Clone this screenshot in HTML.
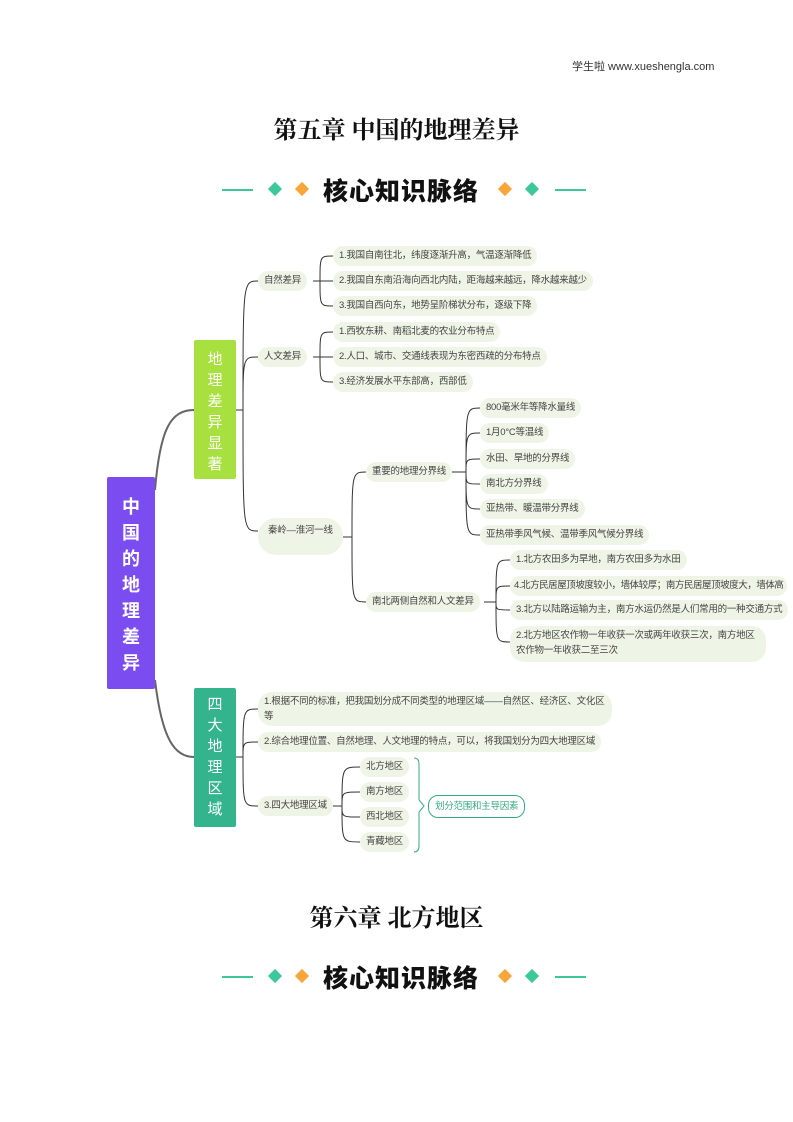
<!DOCTYPE html>
<html><head><meta charset="utf-8">
<style>
body{margin:0;background:#fff;}
#pg{position:relative;width:793px;height:1122px;overflow:hidden;font-family:"Liberation Sans","Noto Sans CJK SC",sans-serif;color:#333;}
.a{position:absolute;}
.p{position:absolute;height:20px;line-height:20px;padding:0 6px;border-radius:10px;background:#eef5e6;font-size:9.5px;letter-spacing:-0.25px;white-space:nowrap;color:#444;}
.t{position:absolute;left:0;width:793px;text-align:center;font-family:"Liberation Serif","Noto Serif CJK SC",serif;font-size:24px;font-weight:bold;color:#111;}
.h{position:absolute;left:0;width:793px;height:30px;}
.h .l{position:absolute;top:14px;width:31px;height:2px;background:#3cc89a;}
.h .d{position:absolute;top:9px;width:10px;height:10px;transform:rotate(45deg);}
.h .x{position:absolute;left:323px;top:0;font-family:"Noto Sans CJK SC",sans-serif;font-weight:900;font-size:25px;line-height:30px;color:#111;letter-spacing:1px;}
.box{position:absolute;color:#fff;text-align:center;font-family:"Noto Sans CJK SC",sans-serif;border-radius:2px;}
</style></head><body><div id="pg">
<div class="a" style="left:572px;top:58px;font-size:11px;color:#333;">学生啦 www.xueshengla.com</div>
<div class="t" style="top:110px;">第五章 中国的地理差异</div>
<div class="h" style="top:175px;">
<div class="l" style="left:222px"></div><div class="d" style="left:270px;background:#3cc89a"></div><div class="d" style="left:297px;background:#f8a53a"></div>
<div class="x">核心知识脉络</div>
<div class="d" style="left:500px;background:#f8a53a"></div><div class="d" style="left:527px;background:#3cc89a"></div><div class="l" style="left:555px"></div>
</div>

<svg class="a" style="left:0;top:0" width="793" height="1122" fill="none">
<path d="M155 490 C160 430 170 410 194 410 M155 680 C162 740 175 757 194 757" stroke="#666" stroke-width="2"/>
<g stroke="#333" stroke-width="1">
<path d="M236 410H243 M243 410C243 281 243 281 258 281 M243 410C243 357 243 357 258 357 M243 410C243 531 243 531 258 531"/>
<path d="M313 281H320 M320 281C320 256 320 256 333 256 M320 281H333 M320 281C320 306 320 306 333 306"/>
<path d="M313 357H320 M320 357C320 332 320 332 333 332 M320 357H333 M320 357C320 382 320 382 333 382"/>
<path d="M343 537H352 M352 537C352 472 352 472 366 472 M352 537C352 602 352 602 366 602"/>
<path d="M452 472H466 M466 472C466 408 466 408 480 408 M466 472C466 433 466 433 480 433 M466 472C466 459 466 459 480 459 M466 472C466 484 466 484 480 484 M466 472C466 509 466 509 480 509 M466 472C466 535 466 535 480 535"/>
<path d="M484 602H496 M496 602C496 560 496 560 510 560 M496 602C496 586 496 586 510 586 M496 602C496 610 496 610 510 610 M496 602C496 642 496 642 510 642"/>
<path d="M236 757H243 M243 757C243 709 243 709 258 709 M243 757C243 742 243 742 258 742 M243 757C243 806 243 806 258 806"/>
<path d="M332 806H342 M342 806C342 767 342 767 360 767 M342 806C342 792 342 792 360 792 M342 806C342 817 342 817 360 817 M342 806C342 842 342 842 360 842"/>
</g>
<path d="M414 758 Q419 758 419 764 V800 L424 806 L419 812 V846 Q419 852 414 852" stroke="#3aa882" stroke-width="1"/>
</svg>

<div class="box" style="left:107px;top:477px;width:48px;height:212px;background:#7b4cf0;font-size:18px;font-weight:bold;line-height:26px;padding-top:16px;box-sizing:border-box;">中<br>国<br>的<br>地<br>理<br>差<br>异</div>
<div class="box" style="left:194px;top:340px;width:42px;height:139px;background:#a8e040;font-size:15px;line-height:21px;padding-top:8px;box-sizing:border-box;">地<br>理<br>差<br>异<br>显<br>著</div>
<div class="box" style="left:194px;top:688px;width:42px;height:139px;background:#34b48c;font-size:15px;line-height:21px;padding-top:5px;box-sizing:border-box;">四<br>大<br>地<br>理<br>区<br>域</div>

<div class="p" style="left:258px;top:271px;">自然差异</div>
<div class="p" style="left:333px;top:246px;">1.我国自南往北，纬度逐渐升高，气温逐渐降低</div>
<div class="p" style="left:333px;top:271px;">2.我国自东南沿海向西北内陆，距海越来越远，降水越来越少</div>
<div class="p" style="left:333px;top:296px;">3.我国自西向东，地势呈阶梯状分布，逐级下降</div>
<div class="p" style="left:258px;top:347px;">人文差异</div>
<div class="p" style="left:333px;top:322px;">1.西牧东耕、南稻北麦的农业分布特点</div>
<div class="p" style="left:333px;top:347px;">2.人口、城市、交通线表现为东密西疏的分布特点</div>
<div class="p" style="left:333px;top:372px;">3.经济发展水平东部高，西部低</div>
<div class="p" style="left:258px;top:518px;height:37px;line-height:26px;border-radius:18px;padding:0 10px;">秦岭—淮河一线</div>
<div class="p" style="left:366px;top:462px;">重要的地理分界线</div>
<div class="p" style="left:480px;top:398px;">800毫米年等降水量线</div>
<div class="p" style="left:480px;top:423px;">1月0°C等温线</div>
<div class="p" style="left:480px;top:449px;">水田、旱地的分界线</div>
<div class="p" style="left:480px;top:474px;">南北方分界线</div>
<div class="p" style="left:480px;top:499px;">亚热带、暖温带分界线</div>
<div class="p" style="left:480px;top:525px;">亚热带季风气候、温带季风气候分界线</div>
<div class="p" style="left:366px;top:592px;">南北两侧自然和人文差异</div>
<div class="p" style="left:510px;top:550px;">1.北方农田多为旱地，南方农田多为水田</div>
<div class="p" style="left:510px;top:576px;padding:0 4px;letter-spacing:-0.45px;">4.北方民居屋顶坡度较小，墙体较厚；南方民居屋顶坡度大，墙体高</div>
<div class="p" style="left:510px;top:600px;">3.北方以陆路运输为主，南方水运仍然是人们常用的一种交通方式</div>
<div class="p" style="left:510px;top:626px;height:36px;line-height:15px;padding-top:2px;box-sizing:border-box;white-space:normal;width:256px;border-radius:14px;">2.北方地区农作物一年收获一次或两年收获三次，南方地区农作物一年收获二至三次</div>

<div class="p" style="left:258px;top:692px;height:34px;line-height:15px;padding-top:2px;box-sizing:border-box;white-space:normal;width:354px;border-radius:14px;">1.根据不同的标准，把我国划分成不同类型的地理区域——自然区、经济区、文化区等</div>
<div class="p" style="left:258px;top:732px;">2.综合地理位置、自然地理、人文地理的特点，可以，将我国划分为四大地理区域</div>
<div class="p" style="left:258px;top:796px;">3.四大地理区域</div>
<div class="p" style="left:360px;top:757px;">北方地区</div>
<div class="p" style="left:360px;top:782px;">南方地区</div>
<div class="p" style="left:360px;top:807px;">西北地区</div>
<div class="p" style="left:360px;top:832px;">青藏地区</div>
<div class="p" style="left:428px;top:795px;height:21px;line-height:21px;background:#fff;border:1px solid #3aa882;color:#3aa882;">划分范围和主导因素</div>

<div class="t" style="top:898px;">第六章 北方地区</div>
<div class="h" style="top:962px;">
<div class="l" style="left:222px"></div><div class="d" style="left:270px;background:#3cc89a"></div><div class="d" style="left:297px;background:#f8a53a"></div>
<div class="x">核心知识脉络</div>
<div class="d" style="left:500px;background:#f8a53a"></div><div class="d" style="left:527px;background:#3cc89a"></div><div class="l" style="left:555px"></div>
</div>
</div></body></html>
